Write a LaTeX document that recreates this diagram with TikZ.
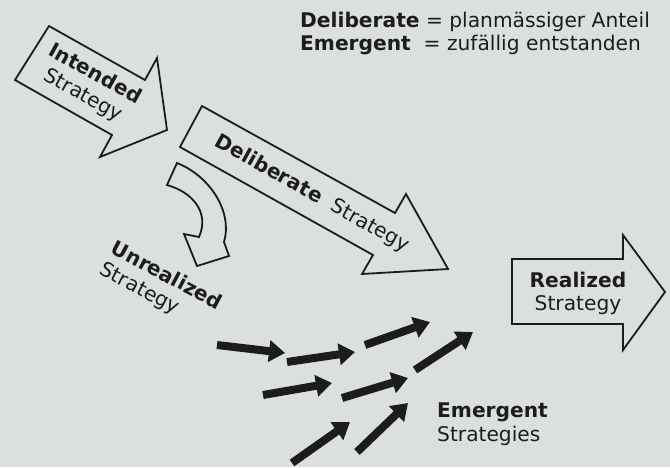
\documentclass[tikz,border=0pt]{standalone}
\usepackage{fontspec}
\setmainfont{DejaVu Sans}
\usetikzlibrary{arrows.meta}
\definecolor{paper}{RGB}{219,224,220}
\definecolor{ink}{RGB}{28,28,28}
\tikzset{
  outline/.style={draw=ink, line width=1.8pt, line join=miter},
  lbl/.style={text=ink, font=\fontsize{20.2}{24}\selectfont, inner sep=0pt},
  drift/.style={draw=ink, line width=8pt, -{Triangle[length=16pt,width=21pt]}},
}
\begin{document}
\begin{tikzpicture}[x=1pt,y=-1pt]
\fill[paper] (0,0) rectangle (670,467);
\useasboundingbox (0,0) rectangle (670,467);

% legend
\node[lbl, anchor=base west] (leg1) at (300,27) {\textbf{Deliberate} = planmässiger Anteil};
\node[lbl, anchor=base west] (leg2) at (300,50.5) {\textbf{Emergent}\ \ = zufällig entstanden};

% intended strategy (block arrow)
\draw[outline] (49,26) -- (145,80) -- (157,58) -- (167,130) -- (100,157)
  -- (112,135) -- (15,80) -- cycle;
\node[lbl, rotate=-29, align=center] (intended) at (89,85) {\textbf{Intended}\\Strategy};

% deliberate strategy (block arrow)
\draw[outline] (202,106) -- (395,213) -- (406,194) -- (448,269) -- (362,274)
  -- (373,255) -- (180,147) -- cycle;
\node[lbl, rotate=-29] (deliberate) at (312,194) {\textbf{Deliberate}\ \ Strategy};

% unrealized strategy (curved arrow)
\draw[outline] (177,163) .. controls (210,176) and (233,212) .. (224,242)
  -- (229,256) -- (197,266) -- (184,234) -- (199,237)
  .. controls (210,212) and (192,192) .. (167,185) -- cycle;
\node[lbl, rotate=-28, align=left] (unrealized) at (160.6,287) {\textbf{Unrealized}\\Strategy};

% realized strategy (block arrow)
\draw[outline] (512,259) -- (623,259) -- (623,235) -- (665,292) -- (623,350)
  -- (623,324) -- (512,324) -- cycle;
\node[lbl, anchor=base] (realized1) at (578,287) {\textbf{Realized}};
\node[lbl, anchor=base] (realized2) at (578,310) {Strategy};

% emergent strategies (small solid arrows)
\coordinate (e1s) at (217,345); \coordinate (e1t) at (285,353);
\coordinate (e2s) at (287,362); \coordinate (e2t) at (355,352);
\coordinate (e3s) at (365,345); \coordinate (e3t) at (430,322);
\coordinate (e4s) at (415,370); \coordinate (e4t) at (473,332);
\coordinate (e5s) at (263,395); \coordinate (e5t) at (332,383);
\coordinate (e6s) at (342,398); \coordinate (e6t) at (408,378);
\coordinate (e7s) at (292,463); \coordinate (e7t) at (350,422);
\coordinate (e8s) at (357,452); \coordinate (e8t) at (408,403);
\foreach \i in {1,...,8} \draw[drift] (e\i s) -- (e\i t);

\node[lbl, anchor=base west] (emergent1) at (437,417) {\textbf{Emergent}};
\node[lbl, anchor=base west] (emergent2) at (437,441) {Strategies};
\end{tikzpicture}
\end{document}
